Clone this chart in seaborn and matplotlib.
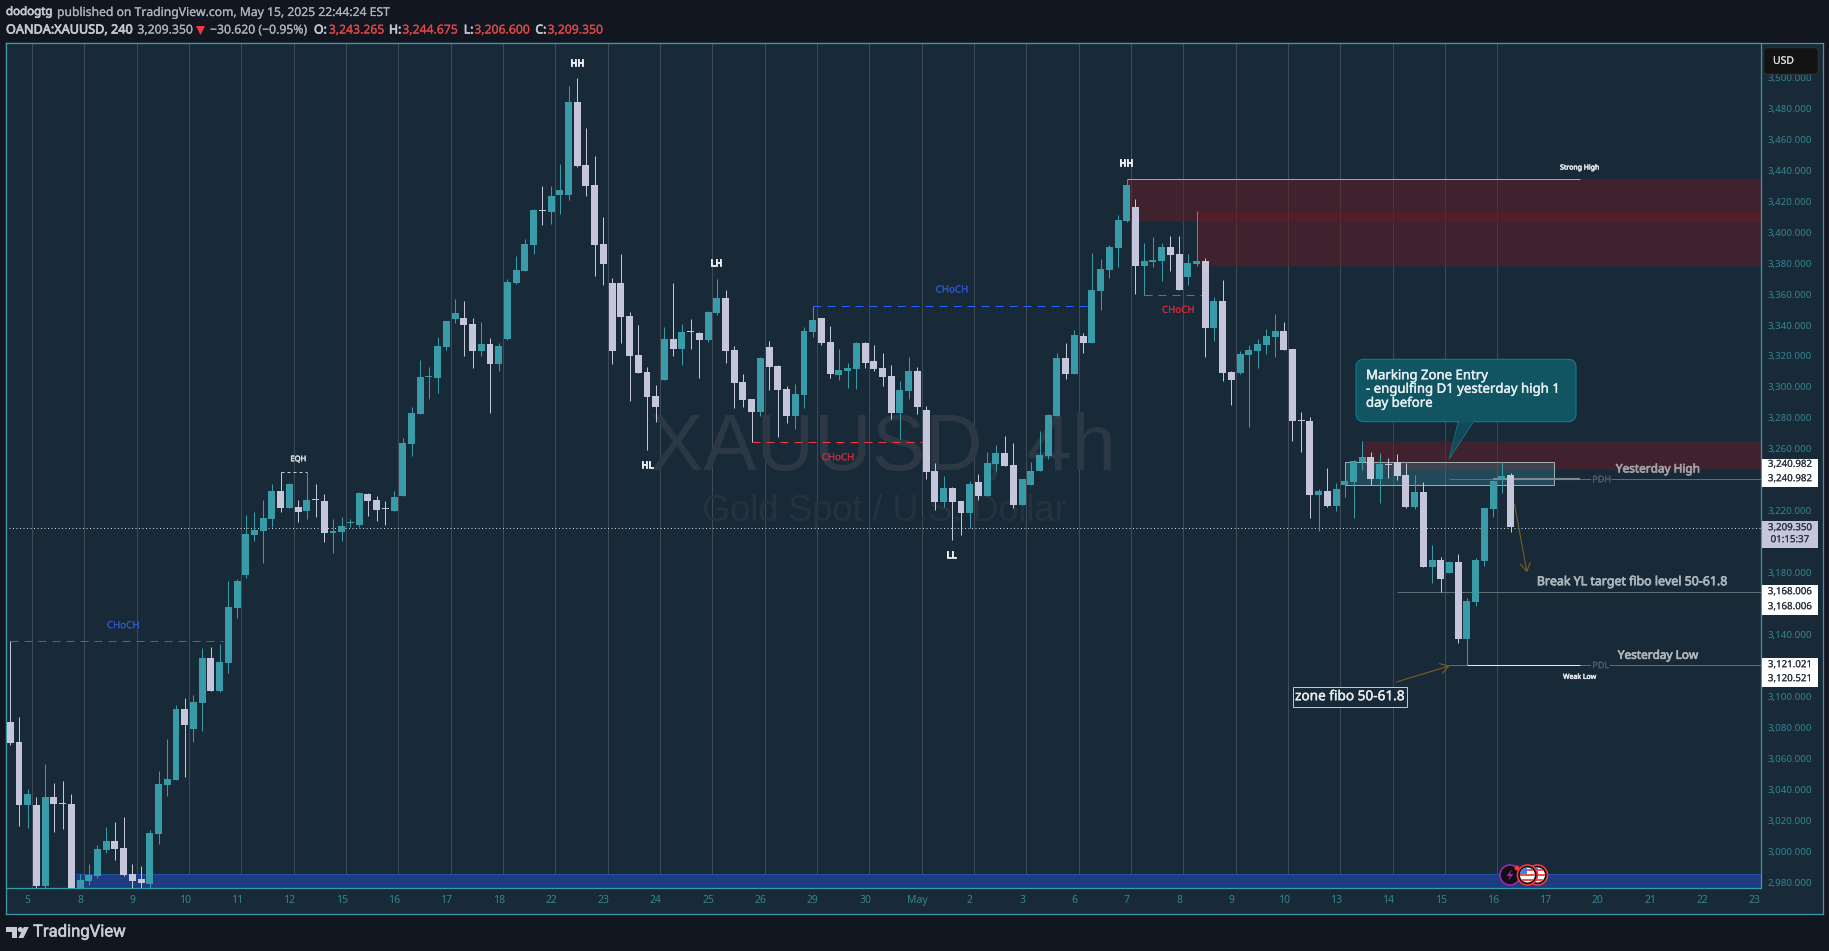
import matplotlib
matplotlib.use("Agg")
import matplotlib.pyplot as plt
import matplotlib.patheffects as pe
import seaborn as sns
import numpy as np
import pandas as pd
from matplotlib.patches import Rectangle, Polygon, Circle, FancyBboxPatch
from matplotlib.ticker import FuncFormatter

# 4h candles
opens = [3083.6,3070.7,3030.0,3030.0,2977.7,3035.1,3031.0,3030.6,2970.0,2980.9,2984.1,3000.9,3006.7,3002.2,2985.4,2982.2,2978.9,3011.2,3042.9,3046.1,
         3092.0,3079.0,3095.9,3124.9,3103.6,3121.7,3157.2,3178.5,3204.4,3207.0,3214.7,3232.8,3221.8,3222.5,3219.9,3227.0,3226.3,3205.7,3206.3,3211.9,
         3210.8,3230.9,3227.0,3221.0,3219.9,3229.6,3263.2,3282.6,3306.3,3305.8,3325.9,3344.0,3344.6,3340.7,3323.3,3327.8,3314.9,3331.0,3367.2,3375.0,
         3391.8,3414.2,3413.1,3424.0,3424.0,3484.1,3443.4,3430.5,3392.4,3367.1,3367.1,3345.9,3320.7,3309.7,3294.2,3304.5,3331.0,3324.5,3335.4,3334.9,
         3330.3,3347.8,3357.5,3323.9,3303.2,3292.2,3283.8,3325.8,3313.6,3298.7,3281.3,3294.8,3335.5,3344.6,3329.0,3307.7,3310.3,3311.6,3328.4,3316.8,
         3312.3,3307.1,3283.2,3297.4,3310.3,3285.1,3245.7,3225.7,3234.8,3226.4,3218.6,3238.6,3229.6,3250.3,3257.4,3249.6,3223.8,3236.7,3245.7,3255.4,
         3281.3,3318.7,3308.4,3332.9,3328.4,3362.0,3375.6,3389.7,3407.2,3416.2,3378.1,3380.7,3381.3,3390.4,3385.9,3371.0,3379.4,3381.3,3338.0,3355.5,
         3309.6,3309.0,3320.6,3323.2,3327.1,3332.3,3336.1,3324.5,3278.3,3278.0,3230.2,3232.8,3223.1,3236.7,3238.6,3251.5,3254.8,3240.5,3249.8,3251.5,
         3243.1,3222.5,3232.2,3183.7,3188.2,3179.8,3186.9,3137.2,3161.1,3187.6,3221.2,3240.6,3243.265]
highs = [3135.7,3086.6,3040.3,3035.1,3056.5,3044.2,3045.5,3037.1,2985.4,2991.9,3004.1,3015.8,3019.0,3022.2,2991.9,2990.6,3013.8,3051.9,3072.6,3094.6,
         3099.1,3101.0,3131.4,3132.0,3134.0,3174.7,3176.0,3217.3,3219.2,3227.0,3237.3,3245.0,3238.0,3227.0,3245.0,3237.3,3230.9,3214.7,3216.0,3214.7,
         3232.1,3231.5,3229.6,3226.3,3232.8,3267.1,3287.1,3317.5,3313.0,3332.3,3342.7,3356.9,3355.6,3344.6,3342.0,3331.7,3328.5,3369.8,3384.6,3395.6,
         3415.0,3429.9,3429.9,3444.0,3494.5,3499.6,3467.3,3449.2,3409.8,3370.3,3385.8,3348.4,3340.0,3312.9,3301.3,3338.7,3367.2,3340.7,3343.9,3335.5,
         3349.1,3369.8,3362.6,3326.5,3308.4,3292.2,3319.4,3329.7,3314.2,3300.6,3301.9,3338.7,3352.3,3344.6,3339.4,3324.5,3315.5,3329.0,3329.0,3327.1,
         3322.0,3314.2,3303.9,3319.4,3312.9,3287.7,3250.9,3242.5,3235.4,3226.4,3239.3,3243.8,3258.0,3262.5,3268.3,3263.8,3240.6,3251.5,3271.6,3282.5,
         3322.0,3328.4,3336.8,3334.9,3386.5,3382.7,3391.7,3411.0,3434.1,3421.4,3393.0,3396.8,3393.0,3397.5,3397.5,3385.9,3413.6,3383.3,3358.1,3369.1,
         3310.3,3323.2,3327.1,3331.0,3337.4,3347.1,3341.9,3324.5,3283.8,3280.6,3234.1,3247.6,3238.0,3239.2,3252.8,3265.1,3258.0,3257.3,3254.1,3256.7,
         3250.9,3243.1,3238.6,3197.9,3190.2,3187.6,3192.1,3163.5,3189.5,3221.8,3239.9,3251.3,3244.675]
lows = [3068.7,3016.4,3015.1,2975.0,2975.0,3012.5,3014.5,2960.0,2965.0,2978.3,2982.8,2999.0,2994.5,2984.1,2975.0,2975.0,2975.0,3004.8,3035.8,3046.0,
        3048.0,3070.7,3077.8,3103.6,3103.0,3115.2,3150.8,3176.6,3200.5,3186.3,3209.5,3219.2,3221.8,3212.8,3214.7,3216.0,3199.9,3192.7,3200.5,3209.5,
        3209.5,3216.6,3213.4,3210.8,3219.9,3229.6,3255.5,3282.6,3292.3,3296.2,3323.9,3341.4,3320.1,3312.3,3320.1,3283.2,3310.4,3330.4,3366.6,3375.0,
        3386.0,3404.7,3405.3,3411.8,3420.8,3442.1,3423.4,3371.7,3365.9,3314.8,3328.4,3290.9,3309.0,3259.3,3277.4,3304.5,3320.0,3314.2,3324.5,3305.8,
        3329.0,3346.5,3315.5,3286.4,3287.1,3264.3,3281.3,3298.1,3267.7,3276.7,3272.9,3286.4,3332.3,3327.1,3305.8,3304.5,3299.3,3298.7,3312.3,3310.3,
        3300.6,3279.3,3266.4,3292.2,3282.5,3240.6,3220.6,3222.5,3201.2,3204.4,3208.9,3227.0,3229.6,3245.7,3249.0,3221.8,3223.8,3236.7,3245.7,3253.5,
        3281.3,3305.2,3308.4,3321.9,3328.4,3349.7,3370.4,3377.5,3406.5,3360.0,3359.2,3377.5,3368.4,3374.9,3362.6,3365.8,3378.1,3319.3,3329.7,3303.8,
        3288.3,3308.4,3274.1,3312.2,3321.3,3319.3,3323.9,3265.1,3258.0,3215.3,3207.0,3222.5,3219.9,3228.9,3215.3,3246.3,3236.7,3225.0,3241.2,3239.9,
        3221.8,3221.2,3183.7,3173.4,3167.6,3179.8,3134.6,3120.2,3158.5,3184.4,3216.0,3231.5,3206.6]
closes = [3070.0,3030.0,3037.1,2977.7,3035.1,3030.6,3030.6,2968.0,2981.5,2984.8,3001.6,3006.7,3001.6,2984.8,2980.9,2979.6,3011.9,3043.5,3046.8,3092.0,
          3081.7,3096.5,3124.9,3103.6,3122.3,3157.9,3174.7,3205.0,3207.6,3215.4,3232.8,3221.8,3237.3,3219.2,3227.0,3226.8,3205.7,3207.0,3210.2,3212.0,
          3231.5,3226.3,3220.5,3220.9,3228.9,3263.9,3283.2,3306.5,3306.5,3326.5,3342.7,3347.8,3340.0,3323.3,3327.8,3314.9,3326.5,3367.9,3375.6,3392.4,
          3414.4,3413.9,3423.4,3427.3,3484.1,3442.8,3429.9,3391.8,3379.5,3323.2,3345.2,3320.0,3309.0,3293.5,3287.1,3331.0,3324.5,3335.5,3335.2,3330.3,
          3348.4,3357.5,3323.2,3302.6,3291.6,3283.8,3318.7,3312.9,3298.1,3281.3,3295.5,3336.2,3343.3,3328.4,3308.4,3311.0,3312.3,3328.4,3315.5,3311.6,
          3306.5,3283.2,3298.1,3310.3,3287.1,3245.1,3225.7,3234.8,3225.7,3218.6,3237.3,3229.6,3250.9,3257.4,3249.0,3223.8,3240.6,3245.7,3256.1,3281.9,
          3318.7,3308.4,3333.6,3328.4,3362.6,3376.2,3390.4,3407.8,3430.4,3378.1,3381.3,3382.0,3390.4,3385.2,3362.6,3380.0,3381.3,3338.0,3355.5,3309.0,
          3304.5,3321.3,3323.9,3327.7,3332.9,3336.1,3323.9,3278.0,3278.2,3230.2,3232.8,3223.1,3234.1,3239.2,3252.2,3254.8,3240.5,3250.2,3249.6,3242.5,
          3222.5,3232.2,3183.7,3188.2,3176.0,3186.9,3137.2,3161.8,3188.2,3221.8,3239.3,3242.5,3209.35]

day_labels = ["5","8","9","10","11","12","15","16","17","18","22","23","24","25","26","29","30","May",
              "2","3","6","7","8","9","10","13","14","15","16","17","20","21","22","23"]
price_ticks = list(range(2980, 3501, 20))

# zones: first bar, low, high
red_starts = [128, 136, 155]
red_lows = [3406.5, 3378.1, 3246.4]
red_highs = [3434.1, 3413.6, 3265.1]
# choch: first bar, last bar, price
blue_choch = [(0, 24.4, 3135.7), (92, 123.6, 3352.1)]
red_choch = [(85, 104.5, 3264.3), (130, 136.6, 3359.2)]
last_price = 3209.0

PANE = "#182a38"
PAGE = "#121621"
TEAL = "#3a9ba8"
LAV = "#c5c5dc"
AXTXT = "#33858f"
PX = 0.72  # one pixel in points at dpi 100
W, H = 1829, 951

sns.set_theme(style="dark", rc={"axes.facecolor": PANE, "figure.facecolor": PAGE, "axes.edgecolor": TEAL,
                                "axes.linewidth": 0.9, "xtick.bottom": False, "ytick.left": False})
plt.rcParams["font.family"] = ["Noto Sans", "DejaVu Sans"]


def box(x0, y0, x1, y1):
    return [x0 / W, 1 - y1 / H, (x1 - x0) / W, (y1 - y0) / H]


df = pd.DataFrame({"bar": np.arange(len(opens)), "o": opens, "h": highs, "l": lows, "c": closes})
df["bottom"] = df[["o", "c"]].min(axis=1)
df["body"] = (df["c"] - df["o"]).abs().clip(lower=0.65)
up = df[df["c"] >= df["o"]]
down = df[df["c"] < df["o"]]

fig = plt.figure(figsize=(W / 100, H / 100), dpi=100)
bg = fig.add_axes(box(6, 43, 1822.5, 914), zorder=0)
bg.set_xticks([])
bg.set_yticks([])
ax = fig.add_axes(box(6, 43, 1760.5, 888.3), zorder=1)
ov = fig.add_axes([0, 0, 1, 1], zorder=5)
ov.set_xlim(0, W)
ov.set_ylim(H, 0)
ov.axis("off")
ov.patch.set_alpha(0)

# watermark
ax.text(100, 3259.5, "XAUUSD, 4h", fontsize=57.5, family="Liberation Sans", color="#2c3844", ha="center", va="center", zorder=1)
ax.text(100.2, 3219.5, "Gold Spot / U.S. Dollar", fontsize=26, family="Liberation Sans", color="#26333f", ha="center", va="center", zorder=1)

# zones
for s, lo, hi in zip(red_starts, red_lows, red_highs):
    ax.add_patch(Rectangle((s, lo), 210 - s, hi - lo, facecolor=(101 / 255, 28 / 255, 38 / 255, 0.53), edgecolor="none", zorder=1.5))
ax.add_patch(Rectangle((7.5, 2970), 210, 15.4, facecolor="#1e3d80", edgecolor="none", zorder=1.5))
ax.hlines(2985.4, 7.5, 210, color="#2350a8", lw=PX, zorder=1.6)
ax.add_patch(Rectangle((153, 3236.5), 24, 14.8, facecolor=(58 / 255, 155 / 255, 168 / 255, 0.28), edgecolor="#9eaab0", lw=PX, zorder=1.7))

# levels
ax.hlines(3434.1, 128, 180, color="#bf9aa0", lw=PX, zorder=2)
ax.hlines(3240.4, 165, 210, color="#5f6e74", lw=PX, zorder=2)
ax.hlines(3240.4, 170, 180, color="#7f8a8e", lw=1.5, zorder=2)
ax.hlines(3167.3, 159, 210, color="#5f6e74", lw=PX, zorder=2)
ax.hlines(3120.2, 165, 210, color="#5f6e74", lw=PX, zorder=2)
ax.hlines(3120.2, 167, 180, color="#e8eaf0", lw=PX, zorder=2.1)
ax.hlines(3245, 31, 34, color="#c8ccd8", lw=PX, linestyles=(0, (3, 3)), zorder=2)
for s, e, p in blue_choch:
    ax.hlines(p, s, e, color="#2962ff", lw=PX, linestyles=(0, (8, 6)), zorder=2)
for s, e, p in red_choch:
    ax.hlines(p, s, e, color="#f23645", lw=PX, linestyles=(0, (8, 6)), zorder=2)
ax.hlines(last_price, -1, 210, color="#d5d8e4", lw=PX, linestyles=(0, (1, 2.5)), zorder=2.5)

# candles
ax.vlines(up["bar"], up["l"], up["h"], color=TEAL, lw=PX, zorder=3)
ax.vlines(down["bar"], down["l"], down["h"], color=LAV, lw=PX, zorder=3)
for part, col in [(up, TEAL), (down, LAV)]:
    sns.barplot(data=part, x="bar", y="body", bottom=part["bottom"].values, native_scale=True, orient="x", width=0.8,
                color=col, saturation=1, errorbar=None, linewidth=0, ax=ax, zorder=3.5)

ax.set_xlim(-0.49, 200.66)
ax.set_ylim(2976.1, 3522.2)
ax.set_xlabel("")
ax.set_ylabel("")

# axes
ax.set_xticks([2 + 6 * k for k in range(len(day_labels))], day_labels)
ax.set_xticks([2.5 + 6 * k for k in range(29)], minor=True)
ax.grid(False)
ax.grid(which="minor", axis="x", color="#3f4a54", lw=PX)
ax.set_axisbelow(True)
ax.tick_params(axis="x", which="both", length=0, pad=5, labelsize=7.5, colors=AXTXT)
ax.yaxis.tick_right()
ax.set_yticks(price_ticks)
ax.yaxis.set_major_formatter(FuncFormatter(lambda v, _: f"{v:,.3f}"))
ax.tick_params(axis="y", length=0, pad=5.2, labelsize=7, colors=AXTXT)


def label(x, y, s, size=8, color="#d5d8dc", heavy=0.15, ha="center", **kw):
    t = ov.text(x, y, s, fontsize=size, color=color, ha=ha, va="center", **kw)
    t.set_path_effects([pe.withStroke(linewidth=heavy, foreground=color)])
    return t


# header
label(6, 12.5, "dodogtg", 8.3, "#c4c7cc", 0.5, "left")
label(57, 12.5, "published on TradingView.com, May 15, 2025 22:44:24 EST", 8.75, "#aeb2b8", ha="left")
label(6, 30, "OANDA:XAUUSD, 240", 9.1, "#c4c7cc", 0.5, "left")
label(137.4, 30, "3,209.350", 8.8, "#aeb2b8", ha="left")
ov.add_patch(Polygon([(196, 26), (205, 26), (200.5, 35)], facecolor="#f23645", edgecolor="none"))
label(210, 30, "\u221230.620 (\u22120.95%)", 8.8, "#aeb2b8", ha="left")
for xk, k, xv, v in [(314, "O:", 328.8, "3,243.265"), (389, "H:", 402.3, "3,244.675"),
                     (463.8, "L:", 474.3, "3,206.600"), (535.4, "C:", 547.5, "3,209.350")]:
    label(xk, 30, k, 8.8, "#c4c7cc", 0.5, "left")
    label(xv, 30, v, 8.8, "#e04848", ha="left")

# swing labels
for x, y, s in [(577, 63.3, "HH"), (716, 263.3, "LH"), (647, 465.7, "HL"), (951.3, 555.7, "LL"), (1126, 163.3, "HH")]:
    label(x, y, s, 7, "#eceef2", 0.6)
label(298.4, 459.7, "EQH", 5.5, "#d5d8dc", 0.4)
label(123.3, 625.7, "CHoCH", 7, "#2a55cc")
label(952, 290, "CHoCH", 7, "#2a55cc")
label(838, 457.7, "CHoCH", 7, "#c8283c")
label(1178.3, 310.3, "CHoCH", 7, "#c8283c")
label(1579.7, 168, "Strong High", 5, "#dfe2e6", 0.4)
label(1579.7, 677.3, "Weak Low", 5, "#dfe2e6", 0.4)
label(1601.7, 479.7, "PDH", 6.5, "#4f5c66", bbox=dict(facecolor=PANE, edgecolor="none", pad=1, alpha=0.7))
label(1600.7, 665.7, "PDL", 6.5, "#4f5c66", bbox=dict(facecolor=PANE, edgecolor="none", pad=1))
label(1658, 469, "Yesterday High", 8.5, "#a89ea6", 0.5)
label(1658, 655.3, "Yesterday Low", 8.5, "#aeb6bc", 0.5)
label(1632, 581.7, "Break YL target fibo level 50-61.8", 8.9, "#aeb6bc", 0.5)

# callout
ov.add_patch(Polygon([(1458.3, 421), (1474, 421), (1449, 459.3)], facecolor=(17 / 255, 84 / 255, 98 / 255, 0.75), edgecolor=(14 / 255, 130 / 255, 150 / 255, 0.7), lw=PX))
ov.add_patch(FancyBboxPatch((1356, 359.3), 220, 62.4, boxstyle="round,pad=0,rounding_size=8", facecolor="#115462", edgecolor="#0e8296", lw=PX))
ov.add_patch(Rectangle((1459, 419.5), 14.5, 3, facecolor="#115462", edgecolor="none"))
for y, s in [(375.7, "Marking Zone Entry"), (389.3, "- engulfing D1 yesterday high 1"), (403.3, "day before")]:
    label(1366, y, s, 9.5, "#e6eef0", 0.3, ha="left")

# zone fibo box and arrows
ov.add_patch(Rectangle((1292.5, 686.7), 114.3, 20, facecolor=PANE, edgecolor="#c0c8c8", lw=PX))
label(1349.6, 696.7, "zone fibo 50-61.8", 9.8, "#e8ecee", 0.3)
for a, b in [((1514.5, 504), (1527, 572.5)), ((1396.3, 682), (1450, 665.7))]:
    ov.annotate("", xy=b, xytext=a, arrowprops=dict(arrowstyle="->,head_length=0.5,head_width=0.3", color="#7a5c22", lw=0.8, shrinkA=0, shrinkB=0))

# price boxes
for y0, y1, col, rows in [(459, 486.7, "#ffffff", [(464.3, "3,240.982"), (478.7, "3,240.982")]),
                          (521, 547.7, LAV, [(527.7, "3,209.350"), (539.7, "01:15:37")]),
                          (585, 615, "#ffffff", [(591.7, "3,168.006"), (606.7, "3,168.006")]),
                          (658.3, 686.7, "#ffffff", [(664.7, "3,121.021"), (678.7, "3,120.521")])]:
    ov.add_patch(Rectangle((1761.5, y0), 56.5, y1 - y0, facecolor=col, edgecolor="none"))
    for y, s in rows:
        label(1790, y, s, 7, "#2a3140", 0.1)
ov.add_patch(FancyBboxPatch((1763.7, 47.7), 54.6, 26.6, boxstyle="round,pad=0,rounding_size=3", facecolor="#131313", edgecolor="#2f333b", lw=PX))
label(1773, 61.3, "USD", 7.5, "#d8d8d8", ha="left")

# event icons
for cx in [1537.5, 1527.4]:
    ring = Circle((cx, 875), 10, facecolor="#101010", edgecolor="#f23645", lw=1.2)
    ov.add_patch(ring)
    disc = Circle((cx, 875), 7.5, facecolor="#ffffff", edgecolor="none")
    ov.add_patch(disc)
    for sy in [868.5, 873.5, 878.5]:
        st = Rectangle((cx - 8, sy), 16, 2.5, facecolor="#ef5350", edgecolor="none")
        ov.add_patch(st)
        st.set_clip_path(disc)
    cn = Rectangle((cx - 8, 867), 8, 7, facecolor="#3f7fe8", edgecolor="none")
    ov.add_patch(cn)
    cn.set_clip_path(disc)
ov.add_patch(Circle((1510, 875), 10, facecolor="#101010", edgecolor="#9c27b0", lw=1.2, zorder=0.9))
ov.add_patch(Polygon([(1512, 869), (1506.5, 876), (1510, 876), (1508, 881), (1513.5, 874), (1510, 874)], facecolor="#9c27b0", edgecolor="none"))
ov.add_patch(Circle((1517, 868), 2.5, facecolor="#f23645", edgecolor="none"))

# logo
logo = "#c8ccd4"
ov.add_patch(Polygon([(6, 927), (16.5, 927), (16.5, 938), (11.5, 938), (11.5, 932.2), (6, 932.2)], facecolor=logo, edgecolor="none"))
ov.add_patch(Circle((20.4, 929.6), 2.6, facecolor=logo, edgecolor="none"))
ov.add_patch(Polygon([(23.8, 927), (28.8, 927), (23.4, 938), (18.4, 938)], facecolor=logo, edgecolor="none"))
t = ov.text(33, 932, "TradingView", fontsize=12, family="Roboto", color=logo, ha="left", va="center")
t.set_path_effects([pe.withStroke(linewidth=0.4, foreground=logo)])

fig.savefig("out.png", dpi=100, facecolor=PAGE)
